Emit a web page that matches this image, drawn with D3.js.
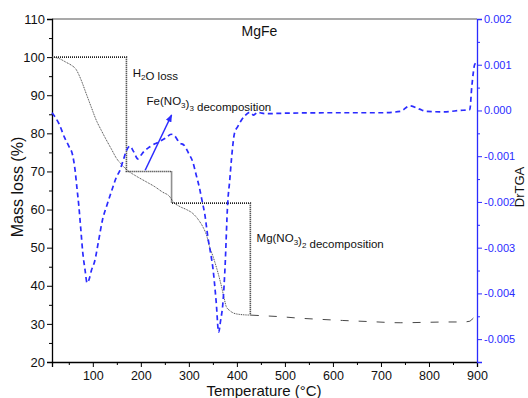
<!DOCTYPE html>
<html>
<head>
<meta charset="utf-8">
<script src="https://cdn.jsdelivr.net/npm/d3@7"></script>
<style>
  body { margin: 0; background: #fff; }
  svg text { font-family: "Liberation Sans", Arial, sans-serif; }
</style>
</head>
<body>
<svg id="chart" width="528" height="398"></svg>
<script>
// temperature (°C) and mass (%) of the TGA curve
var tgaTemp = [15, 30, 45, 55, 65, 75, 86, 97, 107, 118, 128, 139, 149, 160, 171, 190, 211, 229, 245, 260, 267, 281, 295, 308, 320, 329, 337, 343, 350, 357, 363, 368, 373, 378, 385, 392, 405, 429, 460, 489, 530, 573, 620, 677, 740, 790, 840, 870, 885, 892, 900];
var tgaMass = [100, 99.6, 98.6, 97.9, 96.8, 94.2, 90.5, 86.8, 83.5, 80.7, 78.3, 75.8, 73.5, 71.8, 70.4, 68.8, 67.3, 66, 64.6, 63.4, 62.1, 60.8, 60, 59, 57.3, 55.5, 53.2, 50.3, 47.8, 45, 42.3, 39.8, 37, 34.5, 33.5, 32.9, 32.5, 32.3, 32.1, 31.9, 31.5, 31.2, 30.9, 30.6, 30.3, 30.4, 30.5, 30.5, 30.7, 31.5, 32];

// derivative curve (DrTGA)
var dtgTemp = [15, 30, 41, 50, 58, 63, 67, 71, 75, 79, 84, 88, 92, 97, 104, 112, 120, 130, 141, 149, 156, 163, 170, 177, 185, 194, 200, 208, 218, 229, 239, 252, 263, 270, 280, 291, 300, 308, 315, 322, 328, 333, 340, 345, 350, 357, 362, 366, 371, 375, 381, 385, 389, 395, 402, 409, 418, 427, 435, 443, 452, 462, 500, 600, 700, 740, 760, 780, 795, 830, 864, 885, 889, 892, 895, 899];
var dtgValue = [-0.00005, -0.0003, -0.00059, -0.00078, -0.00098, -0.0013, -0.0017, -0.0021, -0.0026, -0.0031, -0.0035, -0.00377, -0.0037, -0.0035, -0.00329, -0.00285, -0.0024, -0.00205, -0.0017, -0.00146, -0.00132, -0.0011, -0.00088, -0.00078, -0.0009, -0.00106, -0.00098, -0.00088, -0.0008, -0.00073, -0.00068, -0.0006, -0.00052, -0.00055, -0.0007, -0.00077, -0.00095, -0.00112, -0.0014, -0.00169, -0.002, -0.00226, -0.0028, -0.0031, -0.00344, -0.0042, -0.00485, -0.0046, -0.0042, -0.0035, -0.002, -0.00154, -0.00103, -0.0005, -0.00035, -0.00022, -0.0001, -0.00004, -0.0001, -0.00004, -0.00006, -0.00007, -0.00006, -0.00005, -0.00005, -0.00002, 0.0001, 0.00003, -0.00002, -0.00003, 0, 0.00002, 0.0005, 0.0008, 0.001, 0.00105];

// step guide lines
var stepTemp = [15, 170, 170, 264, 264, 428, 428];
var stepMass = [100, 100, 70, 70, 61.7, 61.7, 32.3];

// arrow (temperature, mass)
var arrowFrom = [209, 70.3];
var arrowTo = [264, 84.8];

var xTicks = [100, 200, 300, 400, 500, 600, 700, 800, 900];
var xMinor = [50, 150, 250, 350, 450, 550, 650, 750, 850];
var yTicks = [20, 30, 40, 50, 60, 70, 80, 90, 100, 110];
var yMinor = [25, 35, 45, 55, 65, 75, 85, 95, 105];
var y2Ticks = [-0.005, -0.004, -0.003, -0.002, -0.001, 0, 0.001, 0.002];
var y2Minor = [-0.0045, -0.0035, -0.0025, -0.0015, -0.0005, 0.0005, 0.0015];

var svg = d3.select("#chart"),
    margin = {top: 19, right: 51, bottom: 36, left: 52},
    width = +svg.attr("width") - margin.left - margin.right,
    height = +svg.attr("height") - margin.top - margin.bottom;

var blue = "#2b2bff";

var x = d3.scaleLinear().domain([15, 900]).range([0, width]);
var y = d3.scaleLinear().domain([20, 110]).range([height, 0]);
var y2 = d3.scaleLinear().domain([-0.0055, 0.002]).range([height, 0]);

var g = svg.append("g")
    .attr("transform", "translate(" + margin.left + "," + margin.top + ")");

// top frame line
g.append("line")
    .attr("x1", 0).attr("x2", width).attr("y1", 0).attr("y2", 0)
    .attr("stroke", "#555").attr("stroke-width", 1.2);

// bottom axis
var xAxis = g.append("g")
    .attr("transform", "translate(0," + height + ")")
    .call(d3.axisBottom(x).tickValues(xTicks).tickSize(5).tickPadding(4).tickFormat(d3.format("d")));
g.append("g")
    .attr("transform", "translate(0," + height + ")")
    .call(d3.axisBottom(x).tickValues(xMinor).tickSize(3).tickFormat(""))
    .select(".domain").remove();

// left axis
var yAxis = g.append("g")
    .call(d3.axisLeft(y).tickValues(yTicks).tickSize(5).tickPadding(2));
g.append("g")
    .call(d3.axisLeft(y).tickValues(yMinor).tickSize(3).tickFormat(""))
    .select(".domain").remove();

// right axis, blue
var fmt = function(d) { return (d < 0 ? "-" : "") + Math.abs(d).toFixed(3); };
var y2Axis = g.append("g")
    .attr("transform", "translate(" + width + ",0)")
    .call(d3.axisRight(y2).tickValues(y2Ticks).tickSize(5).tickPadding(2).tickFormat(fmt));
var y2Minors = g.append("g")
    .attr("transform", "translate(" + width + ",0)")
    .call(d3.axisRight(y2).tickValues(y2Minor).tickSize(3).tickFormat(""));
y2Minors.select(".domain").remove();

g.selectAll(".domain").attr("stroke-width", 1.3);
xAxis.selectAll("text").attr("font-size", 12.5).attr("fill", "#111");
yAxis.selectAll("text").attr("font-size", 13).attr("fill", "#111");
y2Axis.selectAll("text").attr("font-size", 11).attr("fill", blue);
y2Axis.selectAll("line, path").attr("stroke", blue);
y2Minors.selectAll("line").attr("stroke", blue);

// step guide lines
var stepData = stepTemp.map(function(t, i) { return [t, stepMass[i]]; });
g.append("path")
    .datum(stepData)
    .attr("fill", "none")
    .attr("stroke", "#222")
    .attr("stroke-width", 1.6)
    .attr("stroke-dasharray", "1,1")
    .attr("d", d3.line().x(function(d) { return x(d[0]); }).y(function(d) { return y(d[1]); }));

// TGA curve
var tgaData = tgaTemp.map(function(t, i) { return [t, tgaMass[i]]; });
var tgaLine = d3.line().curve(d3.curveMonotoneX)
    .x(function(d) { return x(d[0]); }).y(function(d) { return y(d[1]); });
g.append("path")
    .datum(tgaData.filter(function(d) { return d[0] <= 429; }))
    .attr("fill", "none")
    .attr("stroke", "#333")
    .attr("stroke-width", 0.9)
    .attr("stroke-dasharray", "1,0.8")
    .attr("d", tgaLine);
g.append("path")
    .datum(tgaData.filter(function(d) { return d[0] >= 429; }))
    .attr("fill", "none")
    .attr("stroke", "#333")
    .attr("stroke-width", 0.9)
    .attr("stroke-dasharray", "8,10")
    .attr("d", tgaLine);

// DrTGA curve
var dtgData = dtgTemp.map(function(t, i) { return [t, dtgValue[i]]; });
g.append("path")
    .datum(dtgData)
    .attr("fill", "none")
    .attr("stroke", blue)
    .attr("stroke-width", 1.7)
    .attr("stroke-dasharray", "5,3.5")
    .attr("d", d3.line().curve(d3.curveMonotoneX)
        .x(function(d) { return x(d[0]); }).y(function(d) { return y2(d[1]); }));

// arrow
svg.append("defs").append("marker")
    .attr("id", "head")
    .attr("viewBox", "0 0 10 10")
    .attr("refX", 9).attr("refY", 5)
    .attr("markerWidth", 5).attr("markerHeight", 5)
    .attr("orient", "auto")
  .append("path")
    .attr("d", "M0,1 L10,5 L0,9 Z")
    .attr("fill", blue);
g.append("line")
    .attr("x1", x(arrowFrom[0])).attr("y1", y(arrowFrom[1]))
    .attr("x2", x(arrowTo[0])).attr("y2", y(arrowTo[1]))
    .attr("stroke", blue).attr("stroke-width", 1.5)
    .attr("marker-end", "url(#head)");

// annotations
function label(t, v, parts) {
  var txt = g.append("text")
      .attr("x", x(t)).attr("y", y(v))
      .attr("font-size", 11.5).attr("fill", "#111");
  parts.forEach(function(p) {
    if (p.sub) {
      txt.append("tspan").attr("dy", 3).attr("font-size", 8).text(p.s);
      txt.append("tspan").attr("dy", -3).text("");
    } else {
      txt.append("tspan").text(p.s);
    }
  });
}
label(183, 94.7, [{s: "H"}, {s: "2", sub: true}, {s: "O loss"}]);
label(212, 87.4, [{s: "Fe(NO"}, {s: "3", sub: true}, {s: ")"}, {s: "3", sub: true}, {s: " decomposition"}]);
label(441, 51.5, [{s: "Mg(NO"}, {s: "3", sub: true}, {s: ")"}, {s: "2", sub: true}, {s: " decomposition"}]);

// title
g.append("text")
    .attr("x", x(447)).attr("y", 17)
    .attr("text-anchor", "middle")
    .attr("font-size", 14).attr("fill", "#111")
    .text("MgFe");

// axis titles
svg.append("text")
    .attr("transform", "translate(23," + (margin.top + 168) + ") rotate(-90)")
    .attr("text-anchor", "middle")
    .attr("font-size", 16).attr("fill", "#111")
    .text("Mass loss (%)");
svg.append("text")
    .attr("x", 264).attr("y", 396)
    .attr("text-anchor", "middle")
    .attr("font-size", 15).attr("fill", "#111")
    .text("Temperature (\u00B0C)");
svg.append("text")
    .attr("transform", "translate(524," + (margin.top + 168) + ") rotate(-90)")
    .attr("text-anchor", "middle")
    .attr("font-size", 13).attr("fill", "#111")
    .text("DrTGA");
</script>
</body>
</html>
